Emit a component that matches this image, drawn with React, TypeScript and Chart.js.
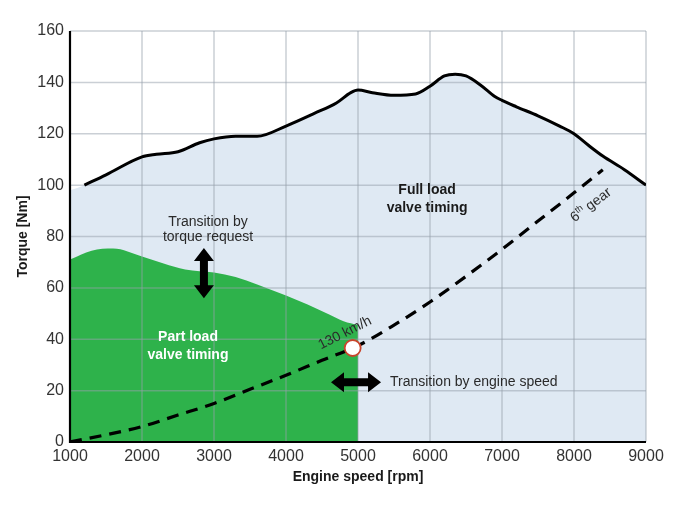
import React, { useEffect, useRef } from "react";
import { Chart, registerables } from "chart.js";

Chart.register(...registerables);

// ---- data ----
const xTicks = [1000, 2000, 3000, 4000, 5000, 6000, 7000, 8000, 9000];
const yTicks = [0, 20, 40, 60, 80, 100, 120, 140, 160];

const fullLoadRpm = [1200, 1500, 2000, 2200, 2500, 2800, 3000, 3300, 3600, 4000, 4400, 4700, 4900, 5000, 5200, 5500, 5800, 6000, 6200, 6350, 6500, 6700, 6900, 7000, 7200, 7500, 7800, 8000, 8200, 8400, 8700, 9000];
const fullLoadTorque = [100, 104, 111, 112, 113, 116.5, 118, 119, 119, 123, 128, 132, 136, 137, 136, 135, 135.5, 138.5, 142.5, 143.2, 142.5, 139, 134.5, 133, 130.5, 127, 123, 120, 115.5, 111.3, 106, 100];

const fullAreaStartRpm = [1000];
const fullAreaStartTorque = [98];

const partLoadRpm = [1000, 1300, 1600, 2000, 2300, 2600, 3000, 3300, 3600, 4000, 4300, 4600, 4800, 5000];
const partLoadTorque = [71, 74.5, 75.3, 72.2, 69.5, 67.2, 66, 64.2, 61.3, 57, 53.5, 49.6, 47, 45.5];

const gearRpm = [1000, 1500, 2000, 2500, 3000, 3500, 4000, 4500, 5000, 5500, 6000, 6500, 7000, 7500, 8000, 8400];
const gearTorque = [0, 2.8, 6, 10.5, 15, 20.5, 26, 31.8, 37.5, 45.5, 54.5, 64.5, 75, 86, 97, 106];

const markerRpm = [4926];
const markerTorque = [36.6];

// annotation anchors in data units
const fullLoadLabel = { rpm: 5960, torque: [98, 91.2], text: ["Full load", "valve timing"] };
const torqueReqLabel = { rpm: 2917, torque: [85.6, 79.8], text: ["Transition by", "torque request"] };
const partLoadLabel = { rpm: 2639, torque: [40.9, 33.9], text: ["Part load", "valve timing"] };
const speedLabel = { rpm: 4819, torque: 42.4, text: "130 km/h" };
const engineSpeedLabel = { rpm: 5444, torque: 23.3, text: "Transition by engine speed" };
const gearLabel = { rpm: 8236, torque: 92.2, main: "6", sup: "th", rest: " gear" };
const vArrow = { rpm: 2860, from: 75.5, to: 56 };
const hArrow = { torque: 23.3, from: 4625, to: 5320 };

const FONT = "'Liberation Sans', Arial, sans-serif";

const pts = (xs: number[], ys: number[]) => xs.map((x, i) => ({ x, y: ys[i] }));

function doubleArrow(ctx: CanvasRenderingContext2D, x1: number, y1: number, x2: number, y2: number, shaft: number, headW: number, headL: number) {
  const len = Math.hypot(x2 - x1, y2 - y1);
  const ang = Math.atan2(y2 - y1, x2 - x1);
  ctx.save();
  ctx.translate(x1, y1);
  ctx.rotate(ang);
  ctx.beginPath();
  ctx.moveTo(0, 0);
  ctx.lineTo(headL, -headW / 2);
  ctx.lineTo(headL, -shaft / 2);
  ctx.lineTo(len - headL, -shaft / 2);
  ctx.lineTo(len - headL, -headW / 2);
  ctx.lineTo(len, 0);
  ctx.lineTo(len - headL, headW / 2);
  ctx.lineTo(len - headL, shaft / 2);
  ctx.lineTo(headL, shaft / 2);
  ctx.lineTo(headL, headW / 2);
  ctx.closePath();
  ctx.fillStyle = "#000";
  ctx.fill();
  ctx.restore();
}

const overlayPlugin = {
  id: "overlay",
  afterDatasetDraw(chart: any, args: any) {
    const ds = chart.data.datasets[args.index];
    if (ds.label !== "Part load") return;
    const { ctx, chartArea, scales } = chart;
    const { left, right, top, bottom } = chartArea;
    ctx.save();
    ctx.strokeStyle = "rgba(150,160,172,0.5)";
    ctx.lineWidth = 1.5;
    xTicks.forEach((v) => {
      const px = scales.x.getPixelForValue(v);
      ctx.beginPath();
      ctx.moveTo(px, top);
      ctx.lineTo(px, bottom);
      ctx.stroke();
    });
    yTicks.forEach((v) => {
      const py = scales.y.getPixelForValue(v);
      ctx.beginPath();
      ctx.moveTo(left, py);
      ctx.lineTo(right, py);
      ctx.stroke();
    });
    ctx.restore();
  },
  afterDatasetsDraw(chart: any) {
    const { ctx, chartArea, scales } = chart;
    const { left, top, bottom, right } = chartArea;
    const X = (v: number) => scales.x.getPixelForValue(v);
    const Y = (v: number) => scales.y.getPixelForValue(v);
    ctx.save();
    // axis lines
    ctx.strokeStyle = "#000";
    ctx.lineWidth = 2.2;
    ctx.beginPath();
    ctx.moveTo(left, top);
    ctx.lineTo(left, bottom);
    ctx.lineTo(right, bottom);
    ctx.stroke();

    ctx.textAlign = "center";
    ctx.textBaseline = "middle";

    // Full load
    ctx.fillStyle = "#1a1a1a";
    ctx.font = `bold 14px ${FONT}`;
    fullLoadLabel.text.forEach((t, i) => ctx.fillText(t, X(fullLoadLabel.rpm), Y(fullLoadLabel.torque[i])));

    // Transition by torque request
    ctx.fillStyle = "#2a2a2a";
    ctx.font = `14px ${FONT}`;
    torqueReqLabel.text.forEach((t, i) => ctx.fillText(t, X(torqueReqLabel.rpm), Y(torqueReqLabel.torque[i])));

    // Part load (white)
    ctx.fillStyle = "#ffffff";
    ctx.font = `bold 14px ${FONT}`;
    partLoadLabel.text.forEach((t, i) => ctx.fillText(t, X(partLoadLabel.rpm), Y(partLoadLabel.torque[i])));

    // 130 km/h rotated
    ctx.save();
    ctx.translate(X(speedLabel.rpm), Y(speedLabel.torque));
    ctx.rotate((-27 * Math.PI) / 180);
    ctx.fillStyle = "#2a2a2a";
    ctx.font = `14px ${FONT}`;
    ctx.fillText(speedLabel.text, 0, 0);
    ctx.restore();

    // Transition by engine speed
    ctx.textAlign = "left";
    ctx.fillStyle = "#2a2a2a";
    ctx.font = `14px ${FONT}`;
    ctx.fillText(engineSpeedLabel.text, X(engineSpeedLabel.rpm), Y(engineSpeedLabel.torque));

    // 6th gear rotated
    ctx.save();
    ctx.translate(X(gearLabel.rpm), Y(gearLabel.torque));
    ctx.rotate((-37 * Math.PI) / 180);
    ctx.font = `14px ${FONT}`;
    const w1 = ctx.measureText(gearLabel.main).width;
    const w3 = ctx.measureText(gearLabel.rest).width;
    ctx.font = `9px ${FONT}`;
    const w2 = ctx.measureText(gearLabel.sup).width;
    let cx = -(w1 + w2 + w3) / 2;
    ctx.textAlign = "left";
    ctx.fillStyle = "#2a2a2a";
    ctx.font = `14px ${FONT}`;
    ctx.fillText(gearLabel.main, cx, 0);
    cx += w1;
    ctx.font = `9px ${FONT}`;
    ctx.fillText(gearLabel.sup, cx, -4);
    cx += w2;
    ctx.font = `14px ${FONT}`;
    ctx.fillText(gearLabel.rest, cx, 0);
    ctx.restore();

    // arrows
    doubleArrow(ctx, X(vArrow.rpm), Y(vArrow.from), X(vArrow.rpm), Y(vArrow.to), 8, 20, 13);
    doubleArrow(ctx, X(hArrow.from), Y(hArrow.torque), X(hArrow.to), Y(hArrow.torque), 8, 20, 13);

    ctx.restore();
  },
};

export default function App() {
  const ref = useRef<HTMLCanvasElement | null>(null);
  useEffect(() => {
    document.body.style.margin = "0";
    const canvas = ref.current!;
    const chart = new Chart(canvas, {
      type: "line",
      data: {
        datasets: [
          {
            label: "Marker",
            type: "scatter",
            data: pts(markerRpm, markerTorque),
            pointRadius: 8,
            pointBackgroundColor: "#ffffff",
            pointBorderColor: "#c9452c",
            pointBorderWidth: 1.8,
            showLine: false,
            order: 0,
          } as any,
          {
            label: "Full load",
            data: pts(fullLoadRpm, fullLoadTorque),
            borderColor: "#000000",
            borderWidth: 3,
            pointRadius: 0,
            cubicInterpolationMode: "monotone",
            fill: false,
            order: 1,
          },
          {
            label: "6th gear",
            data: pts(gearRpm, gearTorque),
            borderColor: "#000000",
            borderWidth: 3.2,
            borderDash: [12, 8],
            pointRadius: 0,
            cubicInterpolationMode: "monotone",
            fill: false,
            order: 2,
          },
          {
            label: "Part load",
            data: pts(partLoadRpm, partLoadTorque),
            borderWidth: 0,
            borderColor: "rgba(0,0,0,0)",
            backgroundColor: "#2eb24b",
            pointRadius: 0,
            cubicInterpolationMode: "monotone",
            fill: "origin",
            order: 3,
          },
          {
            label: "Full load area",
            data: pts(fullAreaStartRpm.concat(fullLoadRpm), fullAreaStartTorque.concat(fullLoadTorque)),
            borderWidth: 0,
            borderColor: "rgba(0,0,0,0)",
            backgroundColor: "#dfe9f3",
            pointRadius: 0,
            cubicInterpolationMode: "monotone",
            fill: "origin",
            order: 4,
          },
        ],
      },
      options: {
        animation: false,
        responsive: false,
        events: [],
        layout: { padding: { left: 0, right: 39, top: 31, bottom: 0 } },
        plugins: { legend: { display: false }, tooltip: { enabled: false } },
        scales: {
          x: {
            type: "linear",
            min: 1000,
            max: 9000,
            grid: { display: false, drawTicks: false },
            border: { display: false },
            ticks: {
              stepSize: 1000,
              padding: 5,
              color: "#333",
              font: { family: FONT, size: 16 },
              callback: (v: any) => String(v),
              maxRotation: 0,
              autoSkip: false,
            },
            title: {
              display: true,
              text: "Engine speed [rpm]",
              color: "#1a1a1a",
              font: { family: FONT, size: 14, weight: "bold" },
              padding: { top: 0, bottom: 41 },
            },
            afterFit: (s: any) => {
              s.height = 85;
            },
          },
          y: {
            min: 0,
            max: 160,
            grid: { display: false, drawTicks: false },
            border: { display: false },
            ticks: {
              stepSize: 20,
              padding: 6,
              color: "#333",
              font: { family: FONT, size: 16 },
            },
            title: {
              display: true,
              text: "Torque [Nm]",
              color: "#1a1a1a",
              font: { family: FONT, size: 14, weight: "bold" },
              padding: { top: 15, bottom: 0 },
            },
            afterFit: (s: any) => {
              s.width = 70;
            },
          },
        },
      } as any,
      plugins: [overlayPlugin],
    });
    return () => chart.destroy();
  }, []);
  return <canvas ref={ref} width={685} height={527} style={{ display: "block" }} />;
}
